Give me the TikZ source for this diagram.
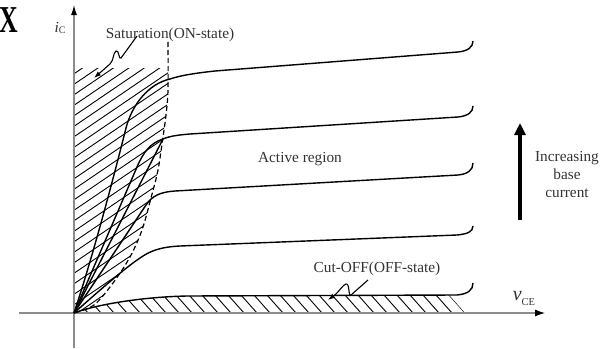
\documentclass[tikz,border=0pt]{standalone}
\usepackage{fontspec}
\setmainfont{Liberation Serif}
\usetikzlibrary{arrows.meta}
\begin{document}
\begin{tikzpicture}[x=1pt,y=-1pt,
  curve/.style={line width=1.4pt, black, line join=round},
  hatchline/.style={line width=0.9pt, black},
  lbl/.style={text=black!80, font=\fontsize{15.3}{18}\selectfont, inner sep=0pt},
  axisline/.style={line width=1.1pt, black!45},
  pointer/.style={line width=1.1pt, black, -{Latex[length=7pt,width=5pt]}}]
\useasboundingbox (0,0) rectangle (612,348);

% saturation hatch
\begin{scope}
  \clip (74,68) -- (168,68) -- plot[smooth,tension=0.55] coordinates {(168,68) (168,90) (166,115) (163,137) (158,170) (151,198) (142,230) (130,257) (113,283) (94,305) (74,313)} -- cycle;
  \foreach \k in {0,...,34} \draw[hatchline] (70,{66+10.5*\k}) -- ++(110,-74.8);
\end{scope}

% cut-off hatch
\begin{scope}
  \clip (74,313) .. controls (95,305) and (140,297) .. (187,296) -- (449,295) -- (465,313) -- cycle;
  \foreach \k in {0,...,31} \draw[hatchline] ({447.2-13*\k},293) -- ++(19.6,22);
\end{scope}

% axes
\draw[axisline, -{Latex[color=black,length=10pt,width=6pt]}] (74,348) -- (74,5);
\draw[axisline, -{Latex[color=black,length=10pt,width=7pt]}] (19,313) -- (545,313);

% dashed saturation boundary
\draw[line width=1.2pt, dash pattern=on 5pt off 3pt] plot[smooth,tension=0.55] coordinates {(168,42) (168,90) (166,115) (163,137) (158,170) (151,198) (142,230) (130,257) (113,283) (94,305) (74,313)};

% characteristic curves
\draw[curve] (74,313) .. controls (95,250) and (118,160) .. (126,128) .. controls (132,105) and (148,84) .. (170,79) .. controls (182,75) and (197,73) .. (215,71) -- (458,52) .. controls (468,51) and (473,47) .. (473,41);
\draw[curve] (74,313) -- (137,167) .. controls (143,153) and (150,143) .. (163,139) .. controls (170,136) and (178,135) .. (190,134) -- (458,117) .. controls (468,116) and (473,112) .. (473,106);
\draw[curve] (74,313) -- (163,139);
\draw[curve] (74,313) -- (146,205) .. controls (152,196) and (160,192) .. (175,191) -- (458,175) .. controls (468,174) and (473,170) .. (473,163);
\draw[curve] (74,313) .. controls (100,290) and (125,268) .. (140,258) .. controls (150,251) and (160,247) .. (180,246) -- (457,235) .. controls (467,234) and (473,232) .. (473,226);
\draw[curve] (74,313) .. controls (95,305) and (140,297) .. (187,296) -- (457,295) .. controls (468,294) and (473,290) .. (473,283);

% pointers
\draw[pointer] (137,36) -- (121,58) .. controls (119,61) and (119,49) .. (116,51) .. controls (113,53) and (114,60) .. (110,64) -- (94,78);
\draw[pointer] (368,280) -- (351,295) .. controls (348,297) and (350,283) .. (346,284) .. controls (343,285) and (340,290) .. (336,294) -- (328,300);

% increasing base current arrow
\draw[line width=3.5pt, -{Triangle[length=12pt,width=11pt]}] (520,220) -- (520,123);

% labels
\node[font=\fontsize{38}{38}\selectfont\bfseries, xscale=0.68, inner sep=0pt] (X) at (9,20) {X};
\node[lbl, anchor=base] (ic) at (60,32) {\textit{i}\raisebox{-1.5pt}{\fontsize{10}{10}\selectfont C}};
\node[lbl, anchor=base] (vce) at (524,300) {{\fontsize{20}{20}\selectfont\itshape v}\raisebox{-5pt}{\fontsize{10.5}{10.5}\selectfont CE}};
\node[lbl, anchor=base] (sat) at (170,38) {Saturation(ON-state)};
\node[lbl, anchor=base] (act) at (300,162) {Active region};
\node[lbl, anchor=base] (cut) at (377,272) {Cut-OFF(OFF-state)};
\node[lbl, anchor=base] (inc1) at (567,161) {Increasing};
\node[lbl, anchor=base] (inc2) at (567,179.5) {base};
\node[lbl, anchor=base] (inc3) at (567,197) {current};
\end{tikzpicture}
\end{document}
